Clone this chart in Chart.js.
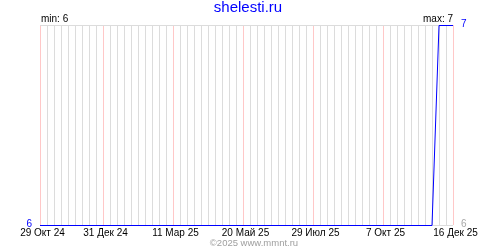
<!DOCTYPE html>
<html>
<head>
<meta charset="utf-8">
<script src="https://cdn.jsdelivr.net/npm/chart.js@4"></script>
<style>
  body { margin: 0; background: #fff; }
  #wrap { width: 500px; height: 250px; }
</style>
</head>
<body>
<div id="wrap"><canvas id="mainChart" width="500" height="250"></canvas></div>
<script>
const siteName = "shelesti.ru";
const footer = "©2025 www.mmnt.ru";

const startDate = "2024-10-29";
const endDate = "2025-12-16";

const dataDates = ["2024-10-29", "2025-11-25", "2025-12-02", "2025-12-16"];
const dataValues = [6, 6, 7, 7];

const tickDates = ["2024-10-29", "2024-12-31", "2025-03-11", "2025-05-20", "2025-07-29", "2025-10-07", "2025-12-16"];
const tickLabels = ["29 Окт 24", "31 Дек 24", "11 Мар 25", "20 Май 25", "29 Июл 25", "7 Окт 25", "16 Дек 25"];

const minValue = 6;
const maxValue = 7;

const FONT = '"Liberation Sans", Arial, sans-serif';

function day(d) {
  return Math.round((Date.parse(d) - Date.parse(startDate)) / 86400000);
}

const points = dataDates.map((d, i) => ({ x: day(d), y: dataValues[i] }));
const labelDays = tickDates.map(day);
const lastDay = day(endDate);

const textPlugin = {
  id: "texts",
  beforeDatasetsDraw(chart) {
    chart.ctx.save();
    chart.ctx.translate(0, 0.5);
  },
  afterDatasetsDraw(chart) {
    chart.ctx.restore();
  },
  afterDraw(chart) {
    const ctx = chart.ctx;
    const x = chart.scales.x, y = chart.scales.y;
    const a = chart.chartArea;
    ctx.save();
    ctx.textBaseline = "alphabetic";

    ctx.font = "15px " + FONT;
    ctx.fillStyle = "#0000ff";
    ctx.textAlign = "center";
    ctx.fillText(siteName, 248, 12);

    ctx.font = "9.5px " + FONT;
    ctx.fillStyle = "#a0a0a0";
    ctx.fillText(footer, 254, 246);

    ctx.font = "10px " + FONT;
    ctx.fillStyle = "#000";
    labelDays.forEach((d, i) => {
      ctx.fillText(tickLabels[i], x.getPixelForValue(d) + 2.5, 236);
    });

    ctx.textAlign = "left";
    ctx.fillText("min: " + minValue, a.left + 1, 22);
    ctx.textAlign = "right";
    ctx.fillText("max: " + maxValue, a.right, 22);

    ctx.fillStyle = "#0000ff";
    ctx.textAlign = "right";
    ctx.fillText(String(minValue), a.left - 8, y.getPixelForValue(minValue) + 2);
    ctx.textAlign = "left";
    ctx.fillText(String(maxValue), a.right + 8, y.getPixelForValue(maxValue) + 2);
    ctx.fillStyle = "#a8a8a8";
    ctx.fillText(String(minValue), a.right + 8, y.getPixelForValue(minValue) + 2);
    ctx.restore();
  }
};

const mainChart = new Chart(document.getElementById("mainChart"), {
  type: "line",
  data: {
    datasets: [{
      data: points,
      borderColor: "#0000ff",
      borderWidth: 1,
      pointRadius: 0,
      fill: false,
      tension: 0,
      clip: false
    }]
  },
  options: {
    responsive: false,
    animation: false,
    devicePixelRatio: 1,
    layout: { padding: { left: 40, right: 47, top: 25, bottom: 25 } },
    plugins: { legend: { display: false }, tooltip: { enabled: false } },
    scales: {
      x: {
        type: "linear",
        min: 0,
        max: lastDay,
        afterBuildTicks: s => {
          const t = [];
          for (let v = 0; v <= lastDay; v += 7) t.push({ value: v });
          s.ticks = t;
        },
        ticks: { display: false },
        border: { display: false },
        grid: {
          drawTicks: false,
          color: c => labelDays.includes(c.tick.value) ? "#ffc8c8" : "#dcdcdc"
        }
      },
      y: {
        min: minValue,
        max: maxValue,
        afterBuildTicks: s => { s.ticks = [{ value: minValue }, { value: maxValue }]; },
        ticks: { display: false },
        border: { display: false },
        grid: { drawTicks: false, color: "#dcdcdc" }
      }
    }
  },
  plugins: [textPlugin]
});
</script>
</body>
</html>
